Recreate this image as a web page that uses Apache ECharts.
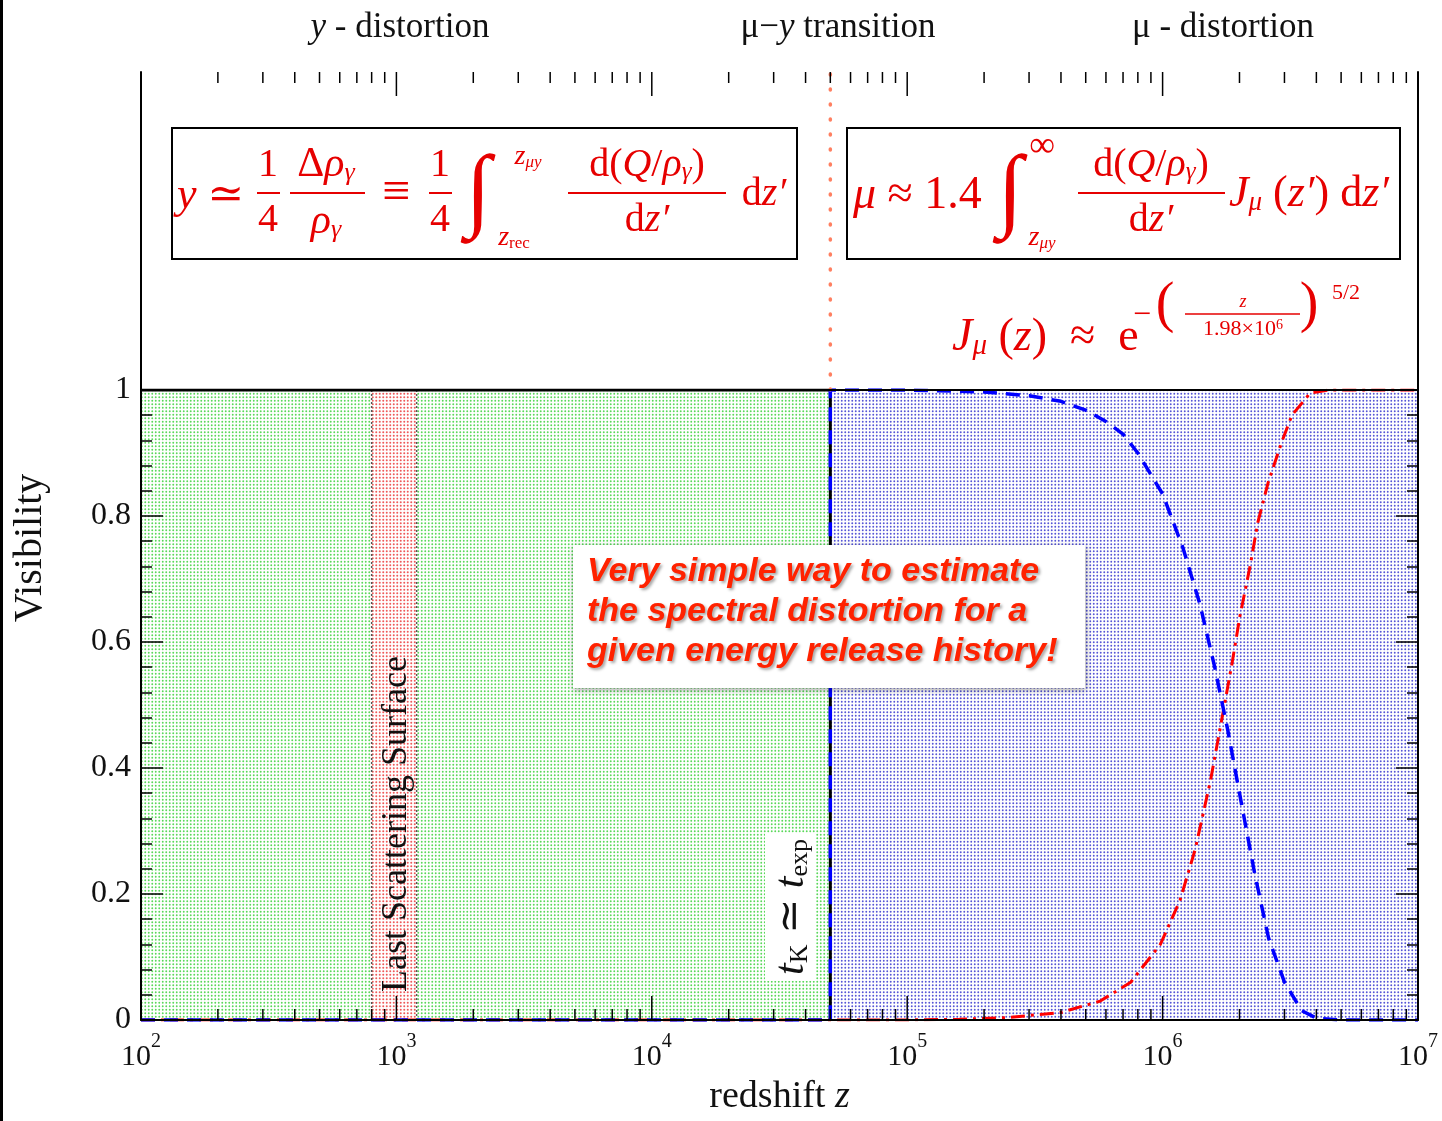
<!DOCTYPE html>
<html>
<head>
<meta charset="utf-8">
<title>Visibility vs redshift</title>
<script src="https://cdn.jsdelivr.net/npm/echarts@6/dist/echarts.min.js"></script>
<style>
  html, body { margin: 0; padding: 0; background: #fff; }
  #chart { width: 1442px; height: 1121px; }
</style>
</head>
<body>
<div id="chart"></div>
<script>
// era boundaries (redshift)
const yEraZ = [100, 5e4];
const muEraZ = [5e4, 1e7];
const lssZ = [800, 1200];

// black step: y-visibility
const stepZ = [100, 5e4, 5e4];
const stepV = [1, 1, 0];

// blue dashed: mu visibility
const blueZ = [100, 5e4, 5e4, 1e5, 2e5, 3e5, 4e5, 5e5, 6e5, 7e5, 8e5, 1e6, 1.2e6, 1.4e6, 1.6e6, 1.8e6, 2e6, 2.3e6, 2.6e6, 3e6, 3.5e6, 4e6, 5e6, 1e7];
const blueV = [0, 0, 1, 1, 0.997, 0.991, 0.982, 0.968, 0.95, 0.93, 0.9, 0.835, 0.75, 0.66, 0.56, 0.46, 0.36, 0.23, 0.13, 0.06, 0.015, 0.003, 0, 0];

// red dash-dot
const redZ = [100, 9.4e4, 1.6e5, 2.5e5, 4e5, 5.7e5, 7.5e5, 9.8e5, 1.17e6, 1.34e6, 1.54e6, 1.71e6, 1.87e6, 2.01e6, 2.2e6, 2.36e6, 2.59e6, 2.93e6, 3.21e6, 3.78e6, 4.5e6, 1e7];
const redV = [0, 0, 0.001, 0.004, 0.012, 0.03, 0.06, 0.12, 0.19, 0.27, 0.38, 0.48, 0.566, 0.642, 0.72, 0.79, 0.853, 0.918, 0.96, 0.995, 1, 1];

// log-axis ticks
const majorTicks = [100, 1000, 1e4, 1e5, 1e6, 1e7];
const minorMult = [2, 3, 4, 5, 6, 7, 8, 9];
const xTicks = [];
majorTicks.forEach((d, k) => {
  xTicks.push([d, 24]);
  if (k < majorTicks.length - 1) minorMult.forEach(m => xTicks.push([d * m, 11]));
});

const RED = '#e60000';
const INK = '#111';
const SERIF = '"Liberation Serif", "DejaVu Serif", serif';
const SANS = '"Liberation Sans", Arial, sans-serif';

const zip = (a, b) => a.map((v, i) => [v, b[i]]);

function dots(color, r) {
  const c = document.createElement('canvas');
  c.width = 7; c.height = 7;
  const g = c.getContext('2d');
  g.fillStyle = '#fff';
  g.fillRect(0, 0, 7, 7);
  g.fillStyle = color;
  [[1.75, 1.75], [5.25, 1.75], [1.75, 5.25], [5.25, 5.25]].forEach(p => {
    g.beginPath();
    g.arc(p[0], p[1], r, 0, Math.PI * 2);
    g.fill();
  });
  return { image: c, repeat: 'repeat' };
}

// rich text helper for the formulas
function rt(x, y, text, size, align, color) {
  const sub = Math.round(size * 0.62);
  return {
    type: 'text', x: x, y: y, z: 100,
    style: {
      text: text, fill: color || RED, fontFamily: SERIF, fontSize: size,
      align: align || 'center', verticalAlign: 'middle',
      rich: {
        m: { fontSize: size, fontFamily: SERIF },
        i: { fontSize: size, fontFamily: SERIF, fontStyle: 'italic' },
        s: { fontSize: sub, fontFamily: SERIF, fontStyle: 'italic', verticalAlign: 'bottom' },
        u: { fontSize: sub, fontFamily: SERIF, verticalAlign: 'bottom' },
        p: { fontSize: sub, fontFamily: SERIF, verticalAlign: 'top' }
      }
    }
  };
}
function bar(x1, x2, y, w) {
  return { type: 'line', z: 100, shape: { x1: x1, y1: y, x2: x2, y2: y }, style: { stroke: RED, lineWidth: w || 2 } };
}
function box(x, y, w, h) {
  return { type: 'rect', z: 99, shape: { x: x, y: y, width: w, height: h }, style: { fill: null, stroke: '#000', lineWidth: 2 } };
}

const notes = [
  { type: 'rect', z: 100, shape: { x: 0, y: 0, width: 3, height: 1121 }, style: { fill: '#000' } },
  // top region labels
  rt(400, 28, '{i|y}{m| - distortion}', 35, 'center', INK),
  rt(838, 28, '{m|μ−}{i|y}{m| transition}', 35, 'center', INK),
  rt(1223, 28, '{m|μ - distortion}', 35, 'center', INK),
  { type: 'text', z: 100, x: 30, y: 548, rotation: Math.PI / 2,
    style: { text: 'Visibility', fill: INK, fontFamily: SERIF, fontSize: 40, align: 'center', verticalAlign: 'middle' } },

  // y formula
  box(172, 128, 625, 131),
  rt(177, 196, '{i|y}{m| ≃}', 44, 'left'),
  rt(268, 165, '1', 40), bar(257, 280, 193), rt(268, 220, '4', 40),
  rt(326, 165, '{m|Δ}{i|ρ}{s|γ}', 42), bar(290, 365, 193), rt(326, 222, '{i|ρ}{s|γ}', 42),
  rt(396, 194, '≡', 50),
  rt(440, 165, '1', 40), bar(429, 452, 193), rt(440, 220, '4', 40),
  rt(478, 195, '∫', 92),
  rt(528, 157, '{i|z}{s|μy}', 28),
  rt(514, 238, '{i|z}{u|rec}', 28),
  rt(647, 165, '{m|d(}{i|Q}{m|/}{i|ρ}{s|γ}{m|)}', 40), bar(568, 726, 193), rt(647, 220, '{m|d}{i|z′}', 40),
  rt(764, 194, '{m|d}{i|z′}', 40),

  // mu formula
  box(847, 128, 553, 131),
  rt(853, 196, '{i|μ}{m| ≈ 1.4}', 46, 'left'),
  rt(1010, 195, '∫', 92),
  rt(1042, 147, '∞', 36),
  rt(1042, 238, '{i|z}{s|μy}', 28),
  rt(1151, 165, '{m|d(}{i|Q}{m|/}{i|ρ}{s|γ}{m|)}', 40), bar(1078, 1225, 193), rt(1151, 220, '{m|d}{i|z′}', 40),
  rt(1229, 194, '{i|J}{s|μ}{m| (}{i|z′}{m|) d}{i|z′}', 44, 'left'),

  // J_mu approximation
  rt(952, 338, '{i|J}{s|μ}{m| (}{i|z}{m|)  ≈  e}', 46, 'left'),
  rt(1142, 316, '−', 32),
  rt(1165, 306, '(', 56),
  rt(1243, 302, '{i|z}', 18), bar(1185, 1300, 314, 1.5), rt(1243, 329, '{m|1.98×10}{p|6}', 22),
  rt(1309, 306, ')', 56),
  rt(1346, 293, '5/2', 22),

  // annotation box
  { type: 'rect', z: 110, shape: { x: 573, y: 545, width: 512, height: 143 },
    style: { fill: '#fff', shadowBlur: 6, shadowColor: 'rgba(0,0,0,0.35)', shadowOffsetX: 1, shadowOffsetY: 2 } },
  { type: 'text', z: 111, x: 587, y: 612,
    style: {
      text: 'Very simple way to estimate\nthe spectral distortion for a\ngiven energy release history!',
      fill: '#ff2200', fontFamily: SANS, fontSize: 34, fontWeight: 'bold', fontStyle: 'italic',
      lineHeight: 40, align: 'left', verticalAlign: 'middle',
      textShadowBlur: 3, textShadowColor: 'rgba(0,0,0,0.35)', textShadowOffsetX: 2, textShadowOffsetY: 2
    } },

  // rotated labels
  { type: 'text', z: 100, x: 397, y: 824, rotation: Math.PI / 2,
    style: { text: 'Last Scattering Surface', fill: INK, fontFamily: SERIF, fontSize: 36, align: 'center', verticalAlign: 'middle' } },
  { type: 'text', z: 100, x: 790, y: 907, rotation: Math.PI / 2,
    style: {
      text: '{i|t}{s|K}{m| ≃ }{i|t}{u|exp}', fill: INK, fontFamily: SERIF, fontSize: 42,
      align: 'center', verticalAlign: 'middle', backgroundColor: '#fff', padding: [6, 6, 2, 6],
      rich: {
        m: { fontSize: 42, fontFamily: SERIF },
        i: { fontSize: 42, fontFamily: SERIF, fontStyle: 'italic' },
        s: { fontSize: 26, fontFamily: SERIF, verticalAlign: 'bottom' },
        u: { fontSize: 26, fontFamily: SERIF, verticalAlign: 'bottom' }
      }
    } }
];

const chart = echarts.init(document.getElementById('chart'), null, { renderer: 'canvas' });

const tickStyle = { color: '#000', width: 1.5 };
const axisLine = { show: true, lineStyle: { color: '#000', width: 2 } };

function tickSeries(xi, yi, yv, dir) {
  return {
    type: 'custom', xAxisIndex: xi, yAxisIndex: yi, z: 6, silent: true,
    data: xTicks.map(t => [t[0], yv, t[1]]), encode: { x: 0, y: 1 },
    renderItem: (params, api) => {
      const p = api.coord([api.value(0), yv]);
      return { type: 'line', shape: { x1: p[0], y1: p[1], x2: p[0], y2: p[1] + dir * api.value(2) },
        style: { stroke: '#000', lineWidth: 1.5 } };
    }
  };
}

const option = {
  backgroundColor: '#fff',
  animation: false,
  grid: [
    { left: 141, right: 24, top: 390, bottom: 97 },
    { left: 141, right: 24, top: 72, height: 318 }
  ],
  xAxis: [
    {
      type: 'log', gridIndex: 0, min: 100, max: 1e7, logBase: 10, position: 'bottom', z: 10,
      axisLine: axisLine,
      axisTick: { show: false },
      splitLine: { show: false },
      axisLabel: {
        margin: 12,
        formatter: v => '{b|10}{s|' + Math.round(Math.log10(v)) + '}',
        rich: {
          b: { fontFamily: SERIF, fontSize: 30, color: INK, verticalAlign: 'bottom', lineHeight: 40 },
          s: { fontFamily: SERIF, fontSize: 20, color: INK, verticalAlign: 'top', lineHeight: 40 }
        }
      },
      name: '{n|redshift }{i|z}', nameLocation: 'middle', nameGap: 58,
      nameTextStyle: {
        rich: {
          n: { fontFamily: SERIF, fontSize: 38, color: INK },
          i: { fontFamily: SERIF, fontSize: 38, color: INK, fontStyle: 'italic' }
        }
      }
    },
    {
      type: 'log', gridIndex: 1, min: 100, max: 1e7, logBase: 10, position: 'top', z: 10,
      axisLine: axisLine,
      axisTick: { show: false },
      axisLabel: { show: false }, splitLine: { show: false }
    }
  ],
  yAxis: [
    {
      type: 'value', gridIndex: 0, min: 0, max: 1, interval: 0.2, position: 'left', z: 10,
      axisLine: axisLine,
      axisTick: { show: true, inside: true, length: 22, lineStyle: tickStyle },
      minorTick: { show: true, splitNumber: 5, length: 11, lineStyle: tickStyle },
      splitLine: { show: false },
      axisLabel: { fontFamily: SERIF, fontSize: 32, color: INK, margin: 10 }
    },
    {
      type: 'value', gridIndex: 0, min: 0, max: 1, interval: 0.2, position: 'right', z: 10,
      axisLine: axisLine,
      axisTick: { show: true, inside: true, length: 22, lineStyle: tickStyle },
      minorTick: { show: true, splitNumber: 5, length: 11, lineStyle: tickStyle },
      splitLine: { show: false }, axisLabel: { show: false }
    },
    {
      type: 'value', gridIndex: 1, min: 0, max: 1, position: 'left', z: 10,
      axisLine: axisLine, axisTick: { show: false }, axisLabel: { show: false }, splitLine: { show: false }
    },
    {
      type: 'value', gridIndex: 1, min: 0, max: 1, position: 'right', z: 10,
      axisLine: axisLine, axisTick: { show: false }, axisLabel: { show: false }, splitLine: { show: false }
    }
  ],
  series: [
    {
      type: 'line', name: 'y era', xAxisIndex: 0, yAxisIndex: 0, z: 1,
      data: yEraZ.map(z => [z, 1]), symbol: 'none', lineStyle: { width: 0 },
      areaStyle: { color: dots('#5ad85a', 0.95), opacity: 1 }
    },
    {
      type: 'line', name: 'mu era', xAxisIndex: 0, yAxisIndex: 0, z: 1,
      data: muEraZ.map(z => [z, 1]), symbol: 'none',
      lineStyle: { width: 1.5, color: '#888', type: [2, 3] },
      areaStyle: { color: dots('#5656d6', 0.95), opacity: 1 }
    },
    {
      type: 'line', name: 'LSS', xAxisIndex: 0, yAxisIndex: 0, z: 2,
      data: lssZ.map(z => [z, 1]), symbol: 'none', lineStyle: { width: 0 },
      areaStyle: { color: dots('#ee5a5a', 1.0), opacity: 1 }
    },
    {
      type: 'line', name: 'LSS lo', xAxisIndex: 0, yAxisIndex: 0, z: 2,
      data: [[lssZ[0], 0], [lssZ[0], 1]], symbol: 'none',
      lineStyle: { width: 1.5, color: '#555', type: [2, 2] }
    },
    {
      type: 'line', name: 'LSS hi', xAxisIndex: 0, yAxisIndex: 0, z: 2,
      data: [[lssZ[1], 0], [lssZ[1], 1]], symbol: 'none',
      lineStyle: { width: 1.5, color: '#555', type: [2, 2] }
    },
    {
      type: 'line', name: 'red', xAxisIndex: 0, yAxisIndex: 0, z: 3,
      data: zip(redZ, redV), symbol: 'none',
      lineStyle: { width: 3, color: '#ff0000', type: [14, 6, 3, 6] }
    },
    {
      type: 'line', name: 'step', xAxisIndex: 0, yAxisIndex: 0, z: 4,
      data: zip(stepZ, stepV), symbol: 'none',
      lineStyle: { width: 3, color: '#000' }
    },
    {
      type: 'line', name: 'blue', xAxisIndex: 0, yAxisIndex: 0, z: 5,
      data: zip(blueZ, blueV), symbol: 'none',
      lineStyle: { width: 3.5, color: '#0000ff', type: [14, 9] }
    },
    {
      type: 'line', name: 'transition', xAxisIndex: 1, yAxisIndex: 2, z: 5,
      data: [[yEraZ[1], 0], [yEraZ[1], 1]], symbol: 'none',
      lineStyle: { width: 3.5, color: '#ff7f60', type: [1, 14], cap: 'round' }
    },
    tickSeries(0, 0, 0, -1),
    tickSeries(1, 2, 1, 1)
  ],
  graphic: { elements: notes }
};

chart.setOption(option);
</script>
</body>
</html>
